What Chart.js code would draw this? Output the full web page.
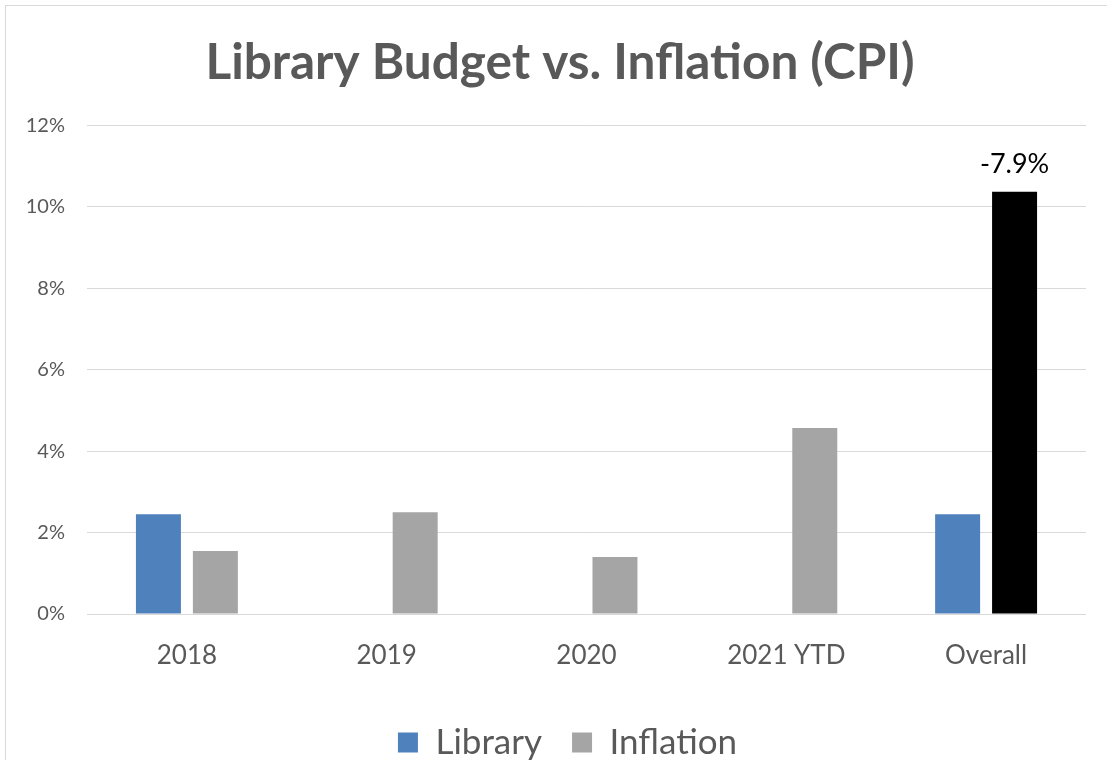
<!DOCTYPE html>
<html>
<head>
<meta charset="utf-8">
<style>
  html, body { margin: 0; padding: 0; background: #ffffff; }
  #wrap { position: relative; width: 1107px; height: 760px; }
  canvas { display: block; }
</style>
<script src="https://cdn.jsdelivr.net/npm/chart.js@4.4.1/dist/chart.umd.min.js"></script>
</head>
<body>
<div id="wrap"><canvas id="c" width="1107" height="760"></canvas></div>
<script>
const categories = ['2018', '2019', '2020', '2021 YTD', 'Overall'];
const libraryValues = [2.45, null, null, null, 2.45];
const inflationValues = [1.55, 2.5, 1.4, 4.57, 10.37];
const inflationColors = ['#A5A5A5', '#A5A5A5', '#A5A5A5', '#A5A5A5', '#000000'];
const inflationLabels = [null, null, null, null, '-7.9%'];
const titleText = 'Library Budget vs. Inflation (CPI)';

const FONT = 'Lato, "Open Sans", sans-serif';

const borderPlugin = {
  id: 'frame',
  beforeDraw(chart) {
    const ctx = chart.ctx;
    ctx.save();
    ctx.fillStyle = '#ffffff';
    ctx.fillRect(0, 0, chart.width, chart.height);
    ctx.strokeStyle = '#d9d9d9';
    ctx.lineWidth = 1;
    ctx.strokeRect(5.5, 5.5, 1300, 1000);
    ctx.restore();
  }
};

// shift title / legend horizontally so they are centred like the original
const shiftPlugin = {
  id: 'shift',
  afterLayout(chart) {
    if (chart.titleBlock) chart.titleBlock.left = 34;
    if (chart.legend) chart.legend.left = 49;
  }
};

const labelPlugin = {
  id: 'barLabels',
  afterDatasetsDraw(chart) {
    const ctx = chart.ctx;
    const meta = chart.getDatasetMeta(1);
    ctx.save();
    ctx.font = '27px ' + FONT;
    ctx.fillStyle = '#000000';
    ctx.textAlign = 'center';
    ctx.textBaseline = 'bottom';
    meta.data.forEach((el, i) => {
      const t = inflationLabels[i];
      if (t) ctx.fillText(t, el.x, el.y - 14);
    });
    ctx.restore();
  }
};

new Chart(document.getElementById('c'), {
  type: 'bar',
  data: {
    labels: categories,
    datasets: [
      { label: 'Library', data: libraryValues, backgroundColor: '#4F81BD',
        categoryPercentage: 0.57, barPercentage: 0.79 },
      { label: 'Inflation', data: inflationValues, backgroundColor: inflationColors,
        categoryPercentage: 0.57, barPercentage: 0.79 }
    ]
  },
  options: {
    responsive: false,
    animation: false,
    devicePixelRatio: 1,
    layout: { padding: { left: 0, right: 21, top: 33, bottom: -10 } },
    plugins: {
      title: {
        display: true,
        text: titleText,
        color: '#595959',
        font: { family: FONT, size: 49.5, weight: 'bold' },
        padding: { top: 0, bottom: 33 }
      },
      legend: {
        position: 'bottom',
        labels: {
          color: '#595959',
          font: { family: FONT, size: 35 },
          boxWidth: 20,
          boxHeight: 20,
          padding: 30,
          generateLabels(chart) {
            return [
              { text: 'Library', fillStyle: '#4F81BD', strokeStyle: '#4F81BD', lineWidth: 0, datasetIndex: 0, fontColor: '#595959' },
              { text: 'Inflation', fillStyle: '#A5A5A5', strokeStyle: '#A5A5A5', lineWidth: 0, datasetIndex: 1, fontColor: '#595959' }
            ];
          }
        }
      },
      tooltip: { enabled: false }
    },
    scales: {
      x: {
        grid: { display: false },
        border: { display: false },
        ticks: { color: '#595959', font: { family: FONT, size: 26 }, padding: 18 },
        afterFit(s) { s.height = 81; }
      },
      y: {
        min: 0, max: 12,
        grid: { color: '#d9d9d9', drawTicks: false },
        border: { display: false },
        ticks: { stepSize: 2, color: '#595959', font: { family: FONT, size: 20 }, padding: 22,
                 callback: v => v + '%' },
        afterFit(s) { s.width = 87; }
      }
    }
  },
  plugins: [borderPlugin, shiftPlugin, labelPlugin]
});
</script>
</body>
</html>
